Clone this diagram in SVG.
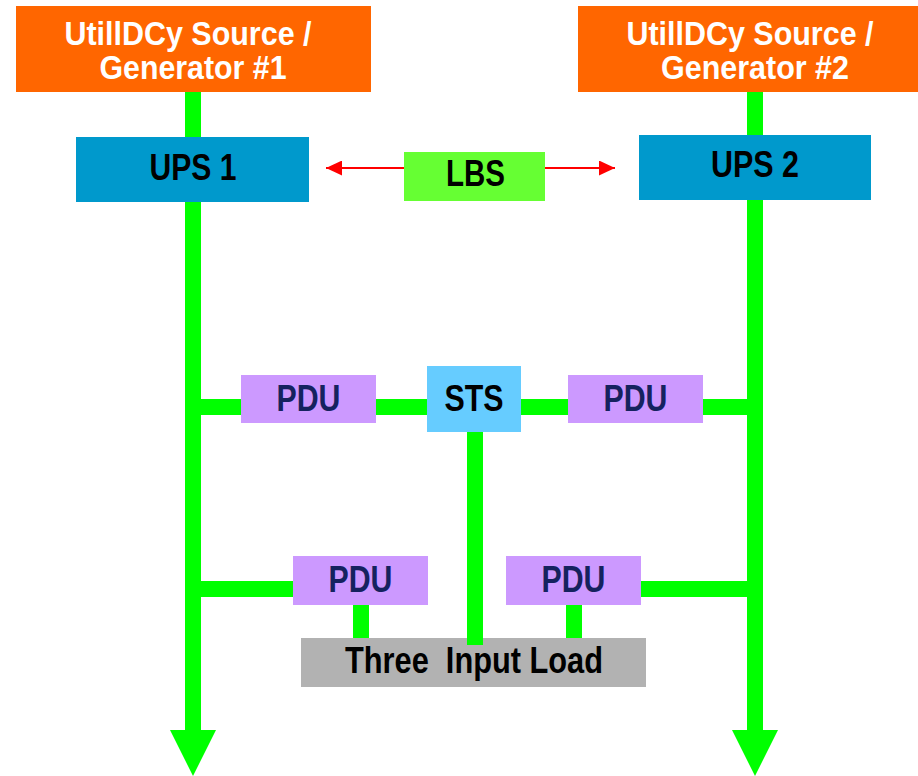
<svg xmlns="http://www.w3.org/2000/svg" width="918" height="776" viewBox="0 0 918 776">
  <defs>
    <style>
      .lbl { font-family: "Liberation Sans", Arial, sans-serif; font-weight: bold; font-size: 36px; text-anchor: middle; }
      .two { font-size: 33px; }
      .src { fill: #FF6600; }
      .ups { fill: #0099CC; }
      .lbs { fill: #66FF33; }
      .pdu { fill: #CC99FF; }
      .sts { fill: #66CCFF; }
      .load { fill: #B2B2B2; }
      .feed { stroke: #00FF00; stroke-width: 16; fill: none; }
      .head { fill: #00FF00; }
      .link { stroke: #FF0000; stroke-width: 2; fill: none; }
      .white { fill: #FFFFFF; }
      .black { fill: #000000; }
      .navy { fill: #15225F; }
    </style>
    <marker id="redHead" viewBox="0 0 16 15" refX="16" refY="7.5" markerWidth="16" markerHeight="15" markerUnits="userSpaceOnUse" orient="auto-start-reverse">
      <path d="M0,0 L16,7.5 L0,15 Z" fill="#FF0000"/>
    </marker>
  </defs>

  <rect width="918" height="776" fill="#FFFFFF"/>

  <!-- power feeds and links -->
  <g id="connectors">
    <line class="feed" x1="193" y1="92" x2="193" y2="732"/>
    <line class="feed" x1="755" y1="92" x2="755" y2="732"/>
    <polygon class="head" points="170,730 216,730 193,776"/>
    <polygon class="head" points="732,730 778,730 755,776"/>
    <line class="feed" x1="185" y1="407" x2="763" y2="407"/>
    <line class="feed" x1="185" y1="589" x2="293" y2="589"/>
    <line class="feed" x1="641" y1="589" x2="763" y2="589"/>
    <line class="feed" x1="361" y1="604" x2="361" y2="639"/>
    <line class="feed" x1="574" y1="604" x2="574" y2="639"/>
    <line class="link" x1="404" y1="168" x2="326" y2="168" marker-end="url(#redHead)"/>
    <line class="link" x1="545" y1="168" x2="615" y2="168" marker-end="url(#redHead)"/>
  </g>

  <g id="source1">
    <rect class="src" x="16" y="6" width="355" height="86"/>
    <text class="lbl two white" x="188" y="45" textLength="247" lengthAdjust="spacingAndGlyphs">UtillDCy Source /</text>
    <text class="lbl two white" x="193" y="79" textLength="187" lengthAdjust="spacingAndGlyphs">Generator #1</text>
  </g>

  <g id="source2">
    <rect class="src" x="578" y="6" width="340" height="86"/>
    <text class="lbl two white" x="750" y="45" textLength="247" lengthAdjust="spacingAndGlyphs">UtillDCy Source /</text>
    <text class="lbl two white" x="755" y="79" textLength="188" lengthAdjust="spacingAndGlyphs">Generator #2</text>
  </g>

  <g id="ups1">
    <rect class="ups" x="76" y="137" width="233" height="65"/>
    <text class="lbl black" x="193" y="180" textLength="87" lengthAdjust="spacingAndGlyphs">UPS 1</text>
  </g>

  <g id="ups2">
    <rect class="ups" x="639" y="135" width="232" height="65"/>
    <text class="lbl black" x="755" y="177" textLength="88" lengthAdjust="spacingAndGlyphs">UPS 2</text>
  </g>

  <g id="lbs">
    <rect class="lbs" x="404" y="152" width="141" height="49"/>
    <text class="lbl black" x="475.5" y="186" textLength="59" lengthAdjust="spacingAndGlyphs">LBS</text>
  </g>

  <g id="pdu1">
    <rect class="pdu" x="241" y="375" width="135" height="48"/>
    <text class="lbl navy" x="308.5" y="411" textLength="64" lengthAdjust="spacingAndGlyphs">PDU</text>
  </g>

  <g id="sts">
    <rect class="sts" x="427" y="366" width="94" height="66"/>
    <line class="feed" x1="475" y1="432" x2="475" y2="645"/>
    <text class="lbl black" x="474" y="411" textLength="59" lengthAdjust="spacingAndGlyphs">STS</text>
  </g>

  <g id="pdu2">
    <rect class="pdu" x="568" y="375" width="135" height="48"/>
    <text class="lbl navy" x="635.5" y="411" textLength="64" lengthAdjust="spacingAndGlyphs">PDU</text>
  </g>

  <g id="pdu3">
    <rect class="pdu" x="293" y="556" width="135" height="49"/>
    <text class="lbl navy" x="360.5" y="592" textLength="64" lengthAdjust="spacingAndGlyphs">PDU</text>
  </g>

  <g id="pdu4">
    <rect class="pdu" x="506" y="556" width="135" height="49"/>
    <text class="lbl navy" x="573.5" y="592" textLength="64" lengthAdjust="spacingAndGlyphs">PDU</text>
  </g>

  <g id="load">
    <rect class="load" x="301" y="638" width="345" height="49"/>
    <line class="feed" x1="475" y1="630" x2="475" y2="645"/>
    <text class="lbl black" x="474" y="673" textLength="258" lengthAdjust="spacingAndGlyphs" xml:space="preserve">Three  Input Load</text>
  </g>
</svg>
